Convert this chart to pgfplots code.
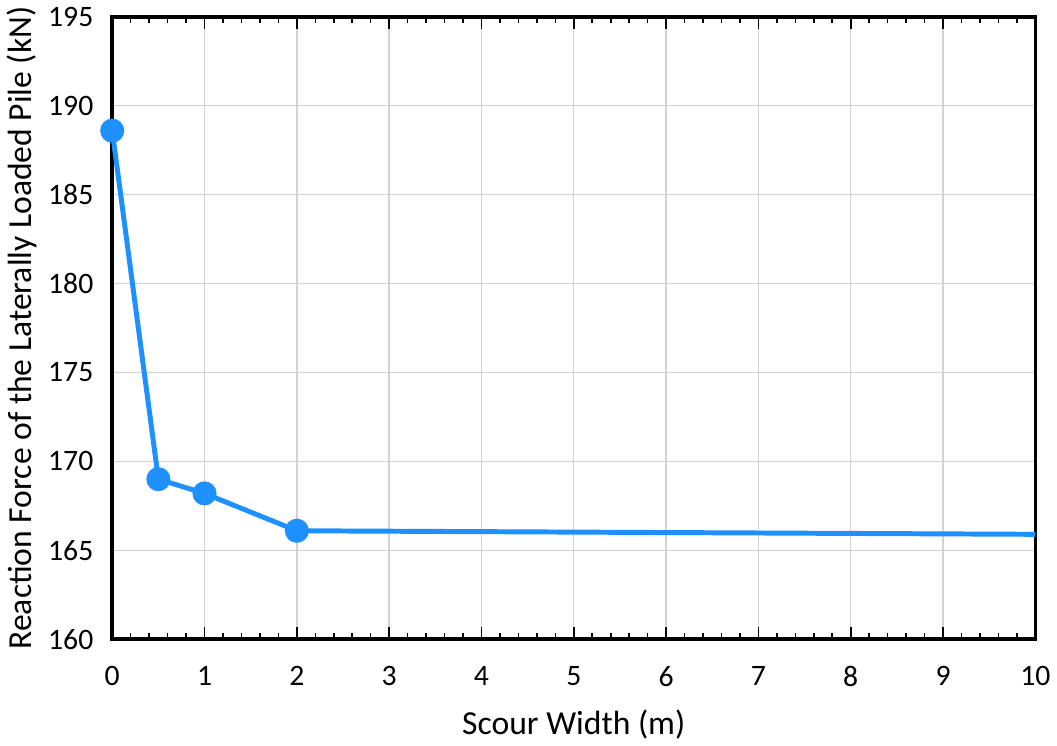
\documentclass[border=0pt]{standalone}
\usepackage{pgfplots}
\pgfplotsset{compat=1.18}
\usepackage{fontspec}
\setmainfont{Carlito}
\definecolor{lineblue}{RGB}{30,144,255}
\begin{document}
\begin{tikzpicture}
\begin{axis}[
    scale only axis,
    width=465bp,
    height=313.5bp,
    xmin=0, xmax=10,
    ymin=160, ymax=195,
    xtick={0,1,...,10},
    ytick={160,165,...,195},
    minor x tick num=4,
    xlabel={Scour Width (m)},
    ylabel={Reaction Force of the Laterally Loaded Pile (kN)},
    /pgf/number format/assume math mode=true,
    tick label style={font=\fontsize{15}{17}\selectfont},
    label style={font=\fontsize{17}{19}\selectfont},
    xticklabel style={yshift=-10bp},
    yticklabel style={xshift=-6bp},
    xlabel style={yshift=-5bp},
    ylabel style={yshift=-1bp},
    axis line style={line width=1.8bp, black},
    tick align=inside,
    xtick style={black, line width=0.8bp},
    major tick length=6bp,
    minor tick length=3bp,
    ytick style={draw=none},
    xmajorgrids, ymajorgrids,
    grid style={gray!35, line width=0.7bp},
    clip=false,
]
\addplot[color=lineblue, line width=2.5bp, mark=*, mark size=4.8bp,
    mark options={fill=lineblue, draw=lineblue}, mark indices={1,2,3,4}]
    coordinates {(0,188.6) (0.5,169.0) (1,168.2) (2,166.1) (10,165.9)};
\end{axis}
\end{tikzpicture}
\end{document}
